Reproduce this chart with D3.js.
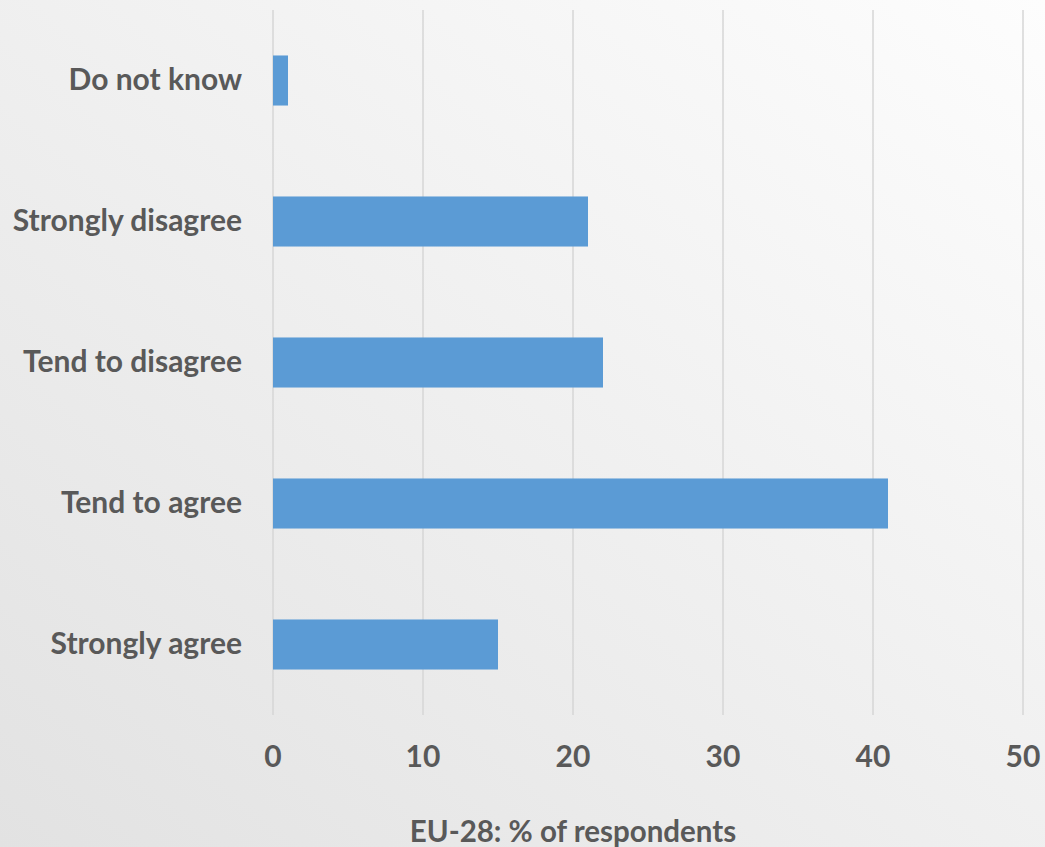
<!DOCTYPE html>
<html>
<head>
<meta charset="utf-8">
<script src="https://cdn.jsdelivr.net/npm/d3@7"></script>
<style>
  body { margin: 0; padding: 0; }
  svg { display: block; }
  text { font-family: Lato, "Open Sans", sans-serif; font-weight: bold; fill: #595959; }
</style>
</head>
<body>
<script>
// Chart data
var categories = ["Do not know", "Strongly disagree", "Tend to disagree", "Tend to agree", "Strongly agree"];
var values = [1, 21, 22, 41, 15];
var ticks = [0, 10, 20, 30, 40, 50];
var axisTitle = "EU-28: % of respondents";

var W = 1045, H = 847;
var plot = {left: 273, right: 1023, top: 10, bottom: 715};

var svg = d3.select("body").append("svg")
    .attr("width", W)
    .attr("height", H);

// Background gradient (darker bottom-left, lighter top-right)
var grad = svg.append("defs").append("linearGradient")
    .attr("id", "bg")
    .attr("x1", "0").attr("y1", "1")
    .attr("x2", "1").attr("y2", "0");
grad.append("stop").attr("offset", "0%").attr("stop-color", "#e2e2e2");
grad.append("stop").attr("offset", "100%").attr("stop-color", "#fdfdfd");
svg.append("rect").attr("width", W).attr("height", H).attr("fill", "url(#bg)");

var xScale = d3.scaleLinear().domain([0, 50]).range([plot.left, plot.right]);
var yScale = d3.scaleBand()
    .domain(categories)
    .range([plot.top, plot.bottom])
    .paddingInner(0.645)
    .paddingOuter(0.3225);

// Gridlines
svg.append("g").selectAll("line")
    .data(ticks)
    .enter().append("line")
    .attr("x1", function(d) { return xScale(d); })
    .attr("x2", function(d) { return xScale(d); })
    .attr("y1", plot.top)
    .attr("y2", plot.bottom)
    .attr("stroke", "#d6d6d6")
    .attr("stroke-width", 1.5);

// Bars
svg.append("g").selectAll("rect")
    .data(categories)
    .enter().append("rect")
    .attr("x", xScale(0))
    .attr("y", function(d) { return yScale(d); })
    .attr("width", function(d, i) { return xScale(values[i]) - xScale(0); })
    .attr("height", yScale.bandwidth())
    .attr("fill", "#5b9bd5");

// Category labels
svg.append("g").selectAll("text")
    .data(categories)
    .enter().append("text")
    .attr("x", 242)
    .attr("y", function(d) { return yScale(d) + yScale.bandwidth() / 2; })
    .attr("dy", "0.33em")
    .attr("text-anchor", "end")
    .style("font-size", "30px")
    .text(function(d) { return d; });

// Tick labels
svg.append("g").selectAll("text")
    .data(ticks)
    .enter().append("text")
    .attr("x", function(d) { return xScale(d); })
    .attr("y", 767)
    .attr("text-anchor", "middle")
    .style("font-size", "30px")
    .text(function(d) { return d; });

// Axis title
svg.append("text")
    .attr("x", 573)
    .attr("y", 842)
    .attr("text-anchor", "middle")
    .style("font-size", "29.5px")
    .text(axisTitle);
</script>
</body>
</html>
